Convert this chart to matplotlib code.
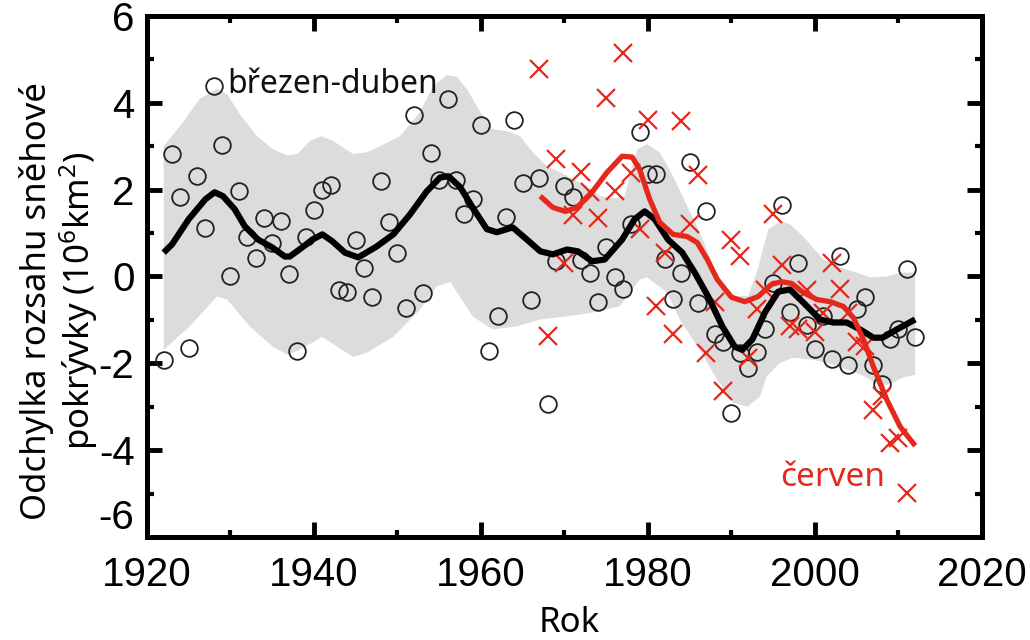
import numpy as np
import matplotlib
matplotlib.use("Agg")
from matplotlib import pyplot as plt
from matplotlib.ticker import MultipleLocator

# brezen-duben (circles), one value per year 1922-2012
spring_years = list(range(1922, 2013))
spring_values = [
    -1.92, 2.82, 1.82, -1.64, 2.31, 1.11, 4.39, 3.03, 0.00, 1.96,
    0.90, 0.43, 1.34, 0.76, 1.27, 0.05, -1.71, 0.92, 1.52, 1.99,
    2.10, -0.30, -0.35, 0.83, 0.20, -0.48, 2.19, 1.25, 0.55, -0.72,
    3.72, -0.39, 2.84, 2.22, 4.09, 2.22, 1.43, 1.78, 3.49, -1.71,
    -0.90, 1.36, 3.60, 2.15, -0.55, 2.26, -2.93, 0.35, 2.08, 1.82,
    0.39, 0.09, -0.58, 0.67, -0.02, -0.28, 1.20, 3.32, 2.35, 2.35,
    0.41, -0.51, 0.07, 2.63, -0.62, 1.50, -1.32, -1.50, -3.14, -1.76,
    -2.10, -1.73, -1.20, -0.14, 1.64, -0.81, 0.32, -1.11, -1.66, -0.92,
    -1.89, 0.47, -2.05, -0.76, -0.48, -2.03, -2.47, -1.45, -1.22, 0.18,
    -1.39,
]

# cerven (crosses)
june_years = list(range(1967, 2012))
june_values = [
    4.78, -1.36, 2.70, 0.32, 1.41, 2.40, 1.94, 1.34, 4.11, 1.96,
    5.15, 2.38, 1.10, 3.60, -0.69, 0.55, -1.32, 3.58, 1.22, 2.34,
    -1.76, -0.58, -2.63, 0.83, 0.47, -1.87, -0.74, -0.30, 1.45, 0.27,
    -1.15, -1.22, -0.30, -1.28, -0.84, 0.30, -0.29, -0.83, -1.50, -1.60,
    -3.07, -2.75, -3.84, -3.71, -4.98,
]

# smoothed curves
spring_smooth_x = [1922, 1923, 1925, 1927, 1928.1, 1929.1, 1930.5, 1931.7, 1933.3, 1935,
                   1936.5, 1937.1, 1938.6, 1939.8, 1941, 1942.2, 1943.7, 1945.3, 1947.5, 1949.5,
                   1951.5, 1953.5, 1955.1, 1956.1, 1957.5, 1959, 1960.7, 1961.9, 1963.8, 1965.5,
                   1967.1, 1968.6, 1970.3, 1971.6, 1973.3, 1974.8, 1976.9, 1978.4, 1979.6, 1980.8,
                   1982.4, 1984.1, 1985.6, 1987.2, 1988.9, 1990.4, 1991.3, 1992.5, 1994, 1995.6,
                   1997, 1998.6, 2000.6, 2002.2, 2003.8, 2005.4, 2007, 2008.1, 2009.8, 2012]
spring_smooth_y = [0.55, 0.74, 1.32, 1.78, 1.94, 1.85, 1.55, 1.16, 0.85, 0.67,
                   0.46, 0.46, 0.67, 0.85, 0.97, 0.81, 0.55, 0.44, 0.69, 0.97,
                   1.43, 1.96, 2.28, 2.31, 2.06, 1.59, 1.09, 1.02, 1.13, 0.85,
                   0.58, 0.51, 0.62, 0.58, 0.35, 0.39, 0.85, 1.32, 1.50, 1.32,
                   0.85, 0.55, 0.09, -0.46, -1.15, -1.62, -1.69, -1.45, -0.83, -0.35,
                   -0.30, -0.60, -0.99, -1.06, -1.06, -1.22, -1.41, -1.41, -1.22, -0.99]

june_smooth_x = [1967.1, 1968.6, 1970.1, 1971.5, 1973.1, 1975.1, 1976.9, 1978.1, 1979, 1980.2,
                 1981.4, 1983, 1984.7, 1985.9, 1987.1, 1988.3, 1990, 1991.6, 1993.2, 1994.8,
                 1996, 1997.2, 1998.6, 2000.2, 2001.8, 2003.4, 2004.6, 2005.8, 2007, 2008.6,
                 2010.2, 2012]
june_smooth_y = [1.85, 1.59, 1.50, 1.59, 1.89, 2.40, 2.77, 2.75, 2.47, 1.78,
                 1.25, 0.97, 0.92, 0.78, 0.39, -0.07, -0.48, -0.58, -0.46, -0.18,
                 -0.12, -0.16, -0.37, -0.53, -0.58, -0.69, -0.95, -1.45, -2.08, -2.84,
                 -3.46, -3.90]

# grey band
band_up_x = [1922, 1924.3, 1926.3, 1928.4, 1929.6, 1931.1, 1933.2, 1935.1, 1936.8, 1938,
             1939.5, 1940.9, 1942.3, 1944.7, 1946.3, 1947.9, 1950.3, 1952.7, 1954.3, 1955.9,
             1957.1, 1958.3, 1959.9, 1961.4, 1963.1, 1964.7, 1966.2, 1967.9, 1969.5, 1971,
             1972.7, 1974.3, 1976, 1977.2, 1978.7, 1979.9, 1981.4, 1983, 1984.7, 1986.2,
             1988, 1989.2, 1990.5, 1992, 1993.2, 1994.4, 1996, 1997, 1998.6, 2001,
             2003, 2005, 2006.6, 2008.6, 2010.2, 2012]
band_up_y = [3.00, 3.55, 4.09, 4.32, 4.20, 3.74, 3.23, 2.93, 2.79, 2.82,
             3.12, 3.23, 3.12, 2.82, 2.86, 3.00, 3.23, 3.79, 4.39, 4.64,
             4.60, 4.32, 3.79, 3.39, 3.35, 3.23, 2.86, 2.54, 2.40, 2.24,
             2.08, 1.85, 1.80, 1.85, 2.93, 3.05, 2.86, 2.31, 1.62, 1.02,
             0.16, -0.25, -0.45, -0.45, 0.20, 1.09, 1.27, 1.20, 0.92, 0.39,
             0.21, 0.09, -0.02, 0.00, 0.09, 0.09]
band_low_x = [1922, 1925.1, 1928.4, 1929.6, 1932.3, 1935.1, 1936.8, 1938.3, 1941, 1942.8,
              1944.7, 1946.3, 1949.5, 1952.7, 1954.7, 1956.3, 1959, 1961.4, 1964.3, 1967.1,
              1970.3, 1973.4, 1976.6, 1979, 1979.9, 1982.3, 1983.8, 1986.2, 1988.3, 1990.2,
              1991.9, 1993.4, 1994.2, 1995.8, 1997.4, 1999.8, 2002.2, 2004.6, 2006.2, 2007.8,
              2009.3, 2010.5, 2012]
band_low_y = [-1.69, -1.15, -0.46, -0.53, -1.15, -1.62, -1.80, -1.69, -1.39, -1.62,
              -1.85, -1.76, -1.39, -0.76, -0.23, -0.12, -0.92, -1.22, -1.15, -0.99,
              -0.92, -0.83, -0.69, -0.07, -0.02, -0.37, -0.99, -1.69, -2.38, -2.91,
              -3.00, -2.77, -2.31, -1.99, -1.87, -1.92, -2.03, -2.19, -2.33, -2.54,
              -2.45, -2.33, -2.26]

RED = "#e5281c"

plt.rcParams["axes.unicode_minus"] = False
plt.rcParams["mathtext.fontset"] = "custom"
plt.rcParams["mathtext.rm"] = "Noto Sans"
plt.rcParams["mathtext.it"] = "Noto Sans"

fig = plt.figure(figsize=(10.3, 6.4), dpi=100)
ax = fig.add_axes([0.1427, 0.161, 0.8107, 0.814])

ax.fill(band_up_x + band_low_x[::-1], band_up_y + band_low_y[::-1],
        color="#dcdcdc", lw=0, zorder=1)

ax.plot(spring_years, spring_values, "o", mfc="none", mec="#222222",
        ms=12, mew=1.3, zorder=3)
ax.plot(june_years, june_values, "x", color=RED, ms=13, mew=1.6, zorder=3)

ax.plot(spring_smooth_x, spring_smooth_y, color="black", lw=4.5,
        solid_capstyle="butt", zorder=4)
ax.plot(june_smooth_x, june_smooth_y, color=RED, lw=3.8,
        solid_capstyle="butt", zorder=5)

ax.set_xlim(1920, 2020)
ax.set_ylim(-6, 6)
ax.xaxis.set_major_locator(MultipleLocator(20))
ax.xaxis.set_minor_locator(MultipleLocator(10))
ax.yaxis.set_major_locator(MultipleLocator(2))
ax.yaxis.set_minor_locator(MultipleLocator(1))
ax.tick_params(which="both", direction="in", top=True, right=True, color="black")
ax.tick_params(which="major", length=11, width=3.5)
ax.tick_params(which="minor", length=5, width=3)
ax.tick_params(axis="x", which="major", pad=14, labelsize=29)
ax.tick_params(axis="y", which="major", pad=9, labelsize=29)
for sp in ax.spines.values():
    sp.set_linewidth(3.6)

ax.text(1929.6, 4.42, "březen-duben", fontsize=23, family="Noto Sans",
        va="center", ha="left", color="#111111", zorder=6)
ax.text(1995.8, -4.64, "červen", fontsize=24, family="Noto Sans",
        va="center", ha="left", color=RED, zorder=6)

fig.text(0.058, 0.53, "Odchylka rozsahu sněhové\npokrývky (10$^6$km$^2$)",
         rotation=90, ha="center", va="center", multialignment="center",
         fontsize=25, family="Noto Sans", linespacing=1.1)
fig.text(0.553, 0.027, "Rok", ha="center", va="center", fontsize=25,
         family="Noto Sans")

fig.canvas.draw()
for lab in ax.get_xticklabels() + ax.get_yticklabels():
    lab.set_fontfamily("Liberation Sans")
for tick in ax.yaxis.get_major_ticks():
    if abs(tick.get_loc() + 6) < 1e-6:
        tick.label1.set_verticalalignment("bottom")

fig.savefig("out.png", dpi=100)
